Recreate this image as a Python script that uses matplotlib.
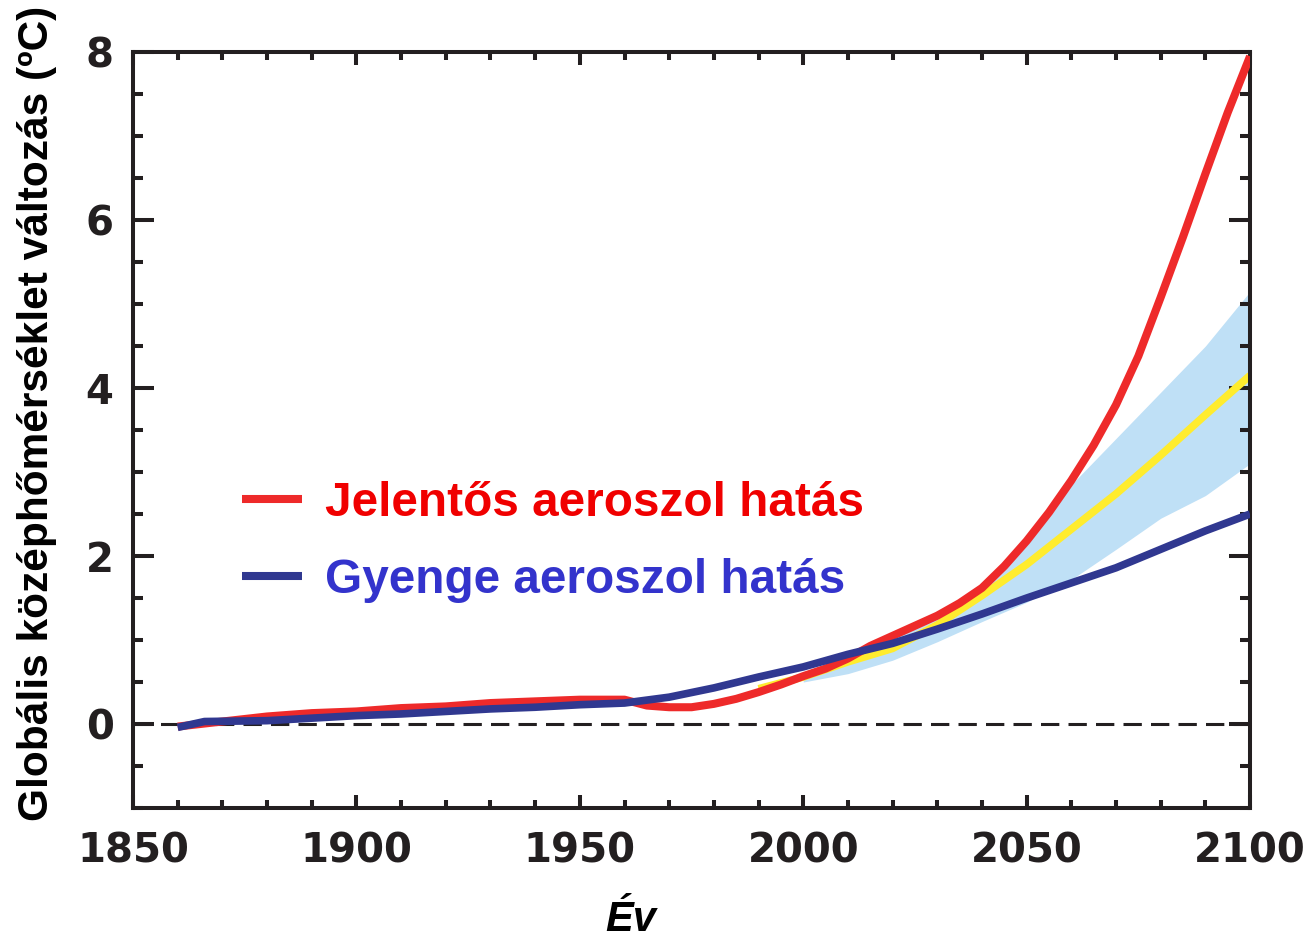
import matplotlib.pyplot as plt
from matplotlib.ticker import MultipleLocator

# global mean temperature change (deg C) by year
years_strong = [1860, 1870, 1880, 1890, 1900, 1910, 1920, 1930, 1940, 1950, 1960,
                1965, 1970, 1975, 1980, 1985, 1990, 1995, 2000, 2005, 2010, 2015,
                2020, 2025, 2030, 2035, 2040, 2045, 2050, 2055, 2060, 2065, 2070,
                2075, 2080, 2085, 2090, 2095, 2100]
strong = [-0.03, 0.03, 0.09, 0.13, 0.15, 0.19, 0.21, 0.25, 0.27, 0.29, 0.29,
          0.22, 0.20, 0.20, 0.24, 0.30, 0.38, 0.47, 0.57, 0.66, 0.78, 0.93,
          1.05, 1.17, 1.29, 1.44, 1.62, 1.88, 2.18, 2.52, 2.90, 3.32, 3.80,
          4.38, 5.08, 5.80, 6.55, 7.28, 7.95]

years_weak = [1860, 1866, 1880, 1890, 1900, 1910, 1920, 1930, 1940, 1950, 1960,
              1970, 1980, 1990, 2000, 2010, 2020, 2030, 2040, 2050, 2060, 2070,
              2080, 2090, 2100]
weak = [-0.04, 0.03, 0.04, 0.07, 0.10, 0.12, 0.15, 0.18, 0.20, 0.23, 0.25,
        0.32, 0.43, 0.56, 0.68, 0.83, 0.96, 1.13, 1.31, 1.50, 1.68, 1.86,
        2.08, 2.30, 2.50]

years_mid = [1990, 2000, 2010, 2020, 2030, 2040, 2050, 2060, 2070, 2080, 2090, 2100]
mid = [0.42, 0.56, 0.74, 0.90, 1.18, 1.53, 1.90, 2.32, 2.74, 3.20, 3.68, 4.15]

years_band = [2000, 2010, 2020, 2030, 2040, 2050, 2060, 2070, 2080, 2090, 2100]
band_lo = [0.50, 0.60, 0.76, 0.98, 1.22, 1.45, 1.72, 2.08, 2.45, 2.72, 3.10]
band_hi = [0.55, 0.80, 1.02, 1.28, 1.60, 2.18, 2.85, 3.40, 3.95, 4.50, 5.15]

red = '#ee2a2a'
blue = '#303890'
ink = '#231f20'

fig = plt.figure(figsize=(13.08, 9.41), dpi=100)
ax = fig.add_axes([0.1017, 0.1413, 0.854, 0.8034])

ax.fill_between(years_band, band_lo, band_hi, color='#bfe0f6', lw=0, zorder=1)
ax.plot(years_mid, mid, color='#ffec2e', lw=5.5, zorder=2, solid_capstyle='butt')
ax.plot([1850, 2100], [0, 0], color=ink, lw=2.2, dashes=(6, 3), zorder=1.5)
ax.plot(years_strong, strong, color=red, lw=5.8, zorder=3, solid_capstyle='butt',
        label='Jelentős aeroszol hatás')
ax.plot(years_weak, weak, color=blue, lw=5.5, zorder=4, solid_capstyle='butt',
        label='Gyenge aeroszol hatás')

ax.set_xlim(1850, 2100)
ax.set_ylim(-1, 8)
ax.xaxis.set_major_locator(MultipleLocator(50))
ax.xaxis.set_minor_locator(MultipleLocator(10))
ax.yaxis.set_major_locator(MultipleLocator(2))
ax.yaxis.set_minor_locator(MultipleLocator(0.5))

for s in ax.spines.values():
    s.set_linewidth(2.9)
    s.set_color(ink)

ax.tick_params(which='both', direction='in', top=True, right=True, color=ink)
ax.tick_params(which='major', axis='x', length=9.5, width=2.9, pad=17)
ax.tick_params(which='minor', axis='x', length=6, width=2.9)
ax.tick_params(which='major', axis='y', length=15, width=2.9, pad=14)
ax.tick_params(which='minor', axis='y', length=7, width=2.9)

for lab in ax.get_xticklabels() + ax.get_yticklabels():
    lab.set_fontsize(29)
    lab.set_fontweight('bold')
    lab.set_family('DejaVu Sans')
    lab.set_color(ink)

ax.set_ylabel('Globális középhőmérséklet változás (ºC)', fontsize=30.5,
              fontweight='bold', family='Liberation Sans')
ax.yaxis.set_label_coords(-0.068, 0.5225)
fig.text(0.482, 0.001, 'Év', fontsize=30, fontweight='bold', style='italic',
         family='Liberation Sans', ha='center', va='bottom')

leg = ax.legend(loc='center left', bbox_to_anchor=(0.0976, 0.352), frameon=False,
                borderpad=0, borderaxespad=0, handlelength=1.26, handletextpad=0.48,
                labelspacing=0.68, prop={'family': 'Liberation Sans', 'weight': 'bold', 'size': 34.4},
                labelcolor=['#f00000', '#3333cc'])
for h in leg.get_lines():
    h.set_linewidth(5.8)

fig.savefig('out.png', dpi=100)
